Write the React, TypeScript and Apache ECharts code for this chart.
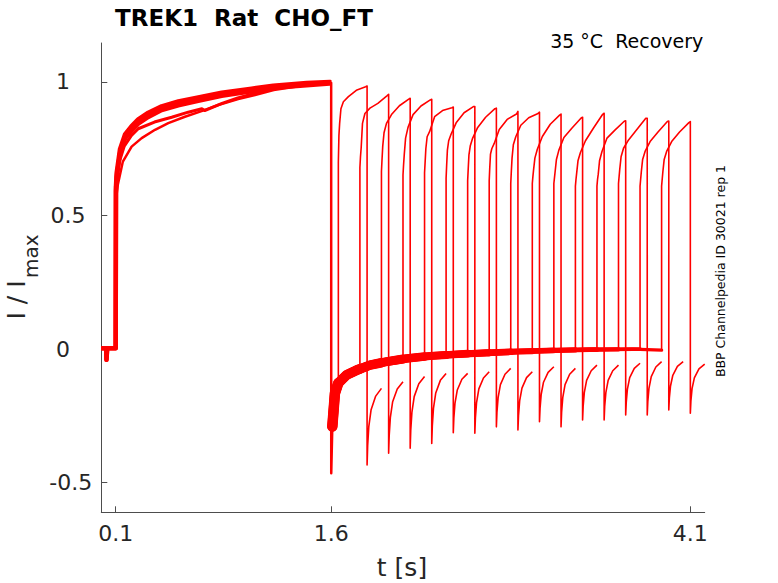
import React, { useEffect, useRef } from "react";
import * as echarts from "echarts";

// ---- axes ----
const X_TICKS = [0.1, 1.6, 4.1];
const Y_TICKS = [-0.5, 0, 0.5, 1];

// ---- holding segment (all sweeps) ----
const HOLD_T = [0, 0.034, 0.036, 0.04, 0.045, 0.1];
const HOLD_I = [0.003, 0.003, -0.04, -0.004, 0.003, 0.003];

// ---- conditioning pulse (0.1 s - 1.6 s): main bundle, upper & lower edge ----
const P1_T = [0.102, 0.107, 0.13, 0.165, 0.211, 0.257, 0.327, 0.42, 0.536, 0.675, 0.838, 1.046, 1.197, 1.429, 1.59, 1.6];
const P1_UPPER = [0.608, 0.66, 0.748, 0.804, 0.835, 0.86, 0.885, 0.909, 0.927, 0.942, 0.96, 0.975, 0.986, 0.996, 1.0, 0.999];
const P1_UPPER2 = [0.592, 0.644, 0.732, 0.788, 0.819, 0.844, 0.869, 0.895, 0.913, 0.93, 0.948, 0.965, 0.978, 0.988, 0.994, 0.995];
// middle sweep
const P1_MID_T = [0.102, 0.11, 0.125, 0.16, 0.21, 0.257, 0.37, 0.49, 0.605, 0.7, 0.72, 0.84, 0.95, 1.1, 1.3, 1.5, 1.6];
const P1_MID = [0.58, 0.64, 0.7, 0.76, 0.8, 0.825, 0.85, 0.868, 0.887, 0.9, 0.893, 0.92, 0.94, 0.962, 0.985, 0.995, 0.997];
// lowest sweep (includes the step back at 1.6 s and the tail spike)
const P1_LOW_T = [0.102, 0.115, 0.15, 0.211, 0.281, 0.374, 0.466, 0.582, 0.698, 0.814, 0.953, 1.07, 1.2, 1.43, 1.6, 1.6005, 1.608];
const P1_LOW = [0.56, 0.615, 0.702, 0.758, 0.79, 0.821, 0.846, 0.87, 0.891, 0.914, 0.936, 0.951, 0.97, 0.989, 0.997, -0.465, -0.29];

// ---- recovery baseline after 1.6 s ----
const BASE_T = [1.608, 1.626, 1.649, 1.707, 1.777, 1.87, 1.986, 2.125, 2.287, 2.449, 2.68, 2.9, 3.15, 3.4, 3.7, 3.9];
const BASE_I = [-0.29, -0.166, -0.128, -0.097, -0.079, -0.06, -0.047, -0.035, -0.026, -0.02, -0.014, -0.009, -0.005, -0.002, 0.0, -0.004];

// ---- test pulses, one per sweep ----
const RISE_T = [1.65, 1.8, 1.95, 2.1, 2.25, 2.4, 2.55, 2.7, 2.85, 3.0, 3.15, 3.3, 3.45, 3.6, 3.75, 3.9];
const FALL_T = [1.85, 2.0, 2.15, 2.3, 2.45, 2.6, 2.75, 2.9, 3.05, 3.2, 3.35, 3.5, 3.65, 3.8, 3.95, 4.1];
const END_T = [1.95, 2.1, 2.25, 2.4, 2.55, 2.7, 2.85, 3.0, 3.15, 3.3, 3.45, 3.6, 3.75, 3.9, 4.05, 4.2];
const BASE_AT_RISE = [-0.128, -0.074, -0.051, -0.037, -0.028, -0.022, -0.017, -0.014, -0.01, -0.008, -0.005, -0.003, -0.002, -0.001, 0.0, -0.004];
const KNEE = [0.7, 0.68, 0.665, 0.652, 0.66, 0.64, 0.63, 0.63, 0.62, 0.62, 0.62, 0.61, 0.61, 0.62, 0.61, 0.61];
const ACT_TAU = [0.004, 0.009, 0.018, 0.035, 0.07, 0.125, 0.19];
const ACT_0 = [0.8, 0.72, 0.71, 0.69, 0.7, 0.69, 0.675, 0.68, 0.665, 0.645, 0.64, 0.635, 0.635, 0.645, 0.635, 0.635];
const ACT_1 = [0.845, 0.755, 0.76, 0.73, 0.75, 0.745, 0.727, 0.73, 0.715, 0.672, 0.665, 0.66, 0.655, 0.675, 0.665, 0.665];
const ACT_2 = [0.9, 0.845, 0.81, 0.79, 0.795, 0.78, 0.76, 0.75, 0.765, 0.715, 0.71, 0.705, 0.705, 0.72, 0.71, 0.71];
const ACT_3 = [0.926, 0.882, 0.845, 0.83, 0.814, 0.805, 0.79, 0.77, 0.795, 0.748, 0.745, 0.736, 0.74, 0.752, 0.74, 0.74];
const ACT_4 = [0.945, 0.902, 0.878, 0.878, 0.87, 0.847, 0.83, 0.822, 0.838, 0.796, 0.792, 0.78, 0.79, 0.783, 0.777, 0.777];
const ACT_5 = [0.969, 0.92, 0.911, 0.91, 0.893, 0.885, 0.868, 0.86, 0.866, 0.842, 0.827, 0.827, 0.82, 0.82, 0.813, 0.813];
const ACT_6 = [0.982, 0.949, 0.936, 0.933, 0.904, 0.908, 0.9, 0.88, 0.882, 0.876, 0.865, 0.879, 0.853, 0.864, 0.852, 0.848];
const PEAK = [0.985, 0.954, 0.939, 0.935, 0.906, 0.908, 0.902, 0.89, 0.887, 0.88, 0.868, 0.883, 0.855, 0.864, 0.854, 0.852];

// ---- tail currents after each test pulse ----
const TAIL_TAU = [0.004, 0.012, 0.028, 0.06];
const TAIL_MIN = [-0.434, -0.39, -0.371, -0.353, -0.313, -0.315, -0.291, -0.303, -0.272, -0.291, -0.265, -0.265, -0.247, -0.247, -0.228, -0.24];
const TAIL_1 = [-0.362, -0.323, -0.304, -0.288, -0.258, -0.258, -0.236, -0.249, -0.221, -0.236, -0.214, -0.214, -0.199, -0.197, -0.183, -0.194];
const TAIL_2 = [-0.29, -0.256, -0.237, -0.222, -0.202, -0.2, -0.182, -0.194, -0.169, -0.182, -0.163, -0.163, -0.15, -0.147, -0.138, -0.148];
const TAIL_3 = [-0.227, -0.197, -0.178, -0.164, -0.153, -0.149, -0.133, -0.146, -0.124, -0.133, -0.117, -0.117, -0.107, -0.103, -0.098, -0.108];
const TAIL_4 = [-0.176, -0.149, -0.13, -0.117, -0.113, -0.108, -0.094, -0.107, -0.087, -0.094, -0.081, -0.081, -0.072, -0.067, -0.065, -0.074];
const TAIL_END = [-0.147, -0.122, -0.103, -0.091, -0.091, -0.085, -0.072, -0.085, -0.066, -0.072, -0.06, -0.06, -0.053, -0.047, -0.047, -0.056];

const RED = "#ff0000";
const TXT = "#262626";
const FONT = "DejaVu Sans";

const zip = (t: number[], v: number[]) => t.map((x, i) => [x, v[i]]);

function buildSeries() {
  const s: any[] = [];
  const mk = (data: number[][], width: number, cap: string = "butt") => ({
    type: "line",
    data,
    symbol: "none",
    showSymbol: false,
    silent: true,
    lineStyle: { color: RED, width, join: "round", cap },
    z: 2,
  });
  const hold = zip(HOLD_T, HOLD_I);
  s.push(mk([...hold, ...zip(P1_T, P1_UPPER)], 4.5));
  s.push(mk([...hold, ...zip(P1_T, P1_UPPER2)], 4.5));
  s.push(mk([...hold, ...zip(P1_MID_T, P1_MID)], 3));
  s.push(mk([...hold, ...zip(P1_LOW_T, P1_LOW)], 2.5));
  const base = zip(BASE_T, BASE_I);
  for (let k = 0; k < RISE_T.length; k++) {
    const b = base.filter((p) => p[0] < RISE_T[k]);
    b.push([RISE_T[k], BASE_AT_RISE[k]]);
    s.push(mk(b, Math.max(3, 10.5 - 0.48 * k), "round"));
  }
  const acts = [ACT_0, ACT_1, ACT_2, ACT_3, ACT_4, ACT_5, ACT_6];
  const tails = [TAIL_1, TAIL_2, TAIL_3, TAIL_4];
  for (let k = 0; k < RISE_T.length; k++) {
    const d: number[][] = [];
    d.push([RISE_T[k], BASE_AT_RISE[k]]);
    d.push([RISE_T[k], KNEE[k]]);
    ACT_TAU.forEach((tau, j) => d.push([RISE_T[k] + tau, acts[j][k]]));
    d.push([FALL_T[k], PEAK[k]]);
    d.push([FALL_T[k], TAIL_MIN[k]]);
    TAIL_TAU.forEach((tau, j) => d.push([FALL_T[k] + tau, tails[j][k]]));
    d.push([END_T[k], TAIL_END[k]]);
    s.push(mk(d, 1.6));
  }
  return s;
}

export default function App() {
  const ref = useRef<HTMLDivElement>(null);
  useEffect(() => {
    const chart = echarts.init(ref.current!, null, { renderer: "svg" });
    const yLabel = (v: number) => {
      if (v === -0.5) return "{a|-0.5}";
      if (v === 0.5) return "{b|0.5}";
      return "{c|" + String(v) + "}";
    };
    const lab = { fontSize: 22, fontFamily: FONT, color: TXT };
    const option: any = {
      animation: false,
      backgroundColor: "#ffffff",
      grid: { left: 101.3, right: 73.3, top: 43, bottom: 70.7, containLabel: false, outerBoundsMode: "none" },
      xAxis: {
        type: "value",
        min: 0,
        max: 4.2,
        axisLine: { show: true, onZero: false, lineStyle: { color: "#4d4d4d", width: 1 } },
        axisTick: { show: true, inside: true, length: 6, customValues: X_TICKS, lineStyle: { color: "#4d4d4d" } },
        axisLabel: { show: true, customValues: X_TICKS, margin: 10, ...lab, formatter: (v: number) => String(v) },
        splitLine: { show: false },
      },
      yAxis: {
        type: "value",
        min: -0.611,
        max: 1.146,
        axisLine: { show: true, onZero: false, lineStyle: { color: "#4d4d4d", width: 1 } },
        axisTick: { show: true, inside: true, length: 6, customValues: Y_TICKS, lineStyle: { color: "#4d4d4d" } },
        axisLabel: {
          show: true,
          customValues: Y_TICKS,
          margin: 9,
          align: "right",
          ...lab,
          formatter: yLabel,
          rich: {
            a: { ...lab },
            b: { ...lab, padding: [0, 6.7, 0, 0] },
            c: { ...lab, padding: [0, 22.4, 0, 0] },
          },
        },
        splitLine: { show: false },
      },
      graphic: [
        {
          type: "text",
          x: 244,
          y: 17.7,
          style: { text: "TREK1  Rat  CHO_FT", fontSize: 23, fontWeight: "bold", fontFamily: FONT, fill: "#000", textAlign: "center", textVerticalAlign: "middle" },
        },
        {
          type: "text",
          x: 703.3,
          y: 40.5,
          style: { text: "35 °C  Recovery", fontSize: 19, fontFamily: FONT, fill: "#000", textAlign: "right", textVerticalAlign: "middle" },
        },
        {
          type: "text",
          x: 720,
          y: 271,
          rotation: Math.PI / 2,
          style: { text: "BBP Channelpedia ID 30021 rep 1", fontSize: 12.5, fontFamily: FONT, fill: "#000", textAlign: "center", textVerticalAlign: "middle" },
        },
        {
          type: "text",
          x: 16.3,
          y: 300,
          rotation: Math.PI / 2,
          style: { text: "I / I", fontSize: 25, fontFamily: FONT, fill: TXT, textAlign: "center", textVerticalAlign: "middle" },
        },
        {
          type: "text",
          x: 31.3,
          y: 278,
          rotation: Math.PI / 2,
          style: { text: "max", fontSize: 20, fontFamily: FONT, fill: TXT, textAlign: "left", textVerticalAlign: "middle" },
        },
        {
          type: "text",
          x: 402,
          y: 567,
          style: { text: "t [s]", fontSize: 25, fontFamily: FONT, fill: TXT, textAlign: "center", textVerticalAlign: "middle" },
        },
      ],
      series: buildSeries(),
    };
    chart.setOption(option);
    return () => chart.dispose();
  }, []);
  return <div ref={ref} style={{ position: "absolute", left: 0, top: 0, width: 778, height: 583 }} />;
}
